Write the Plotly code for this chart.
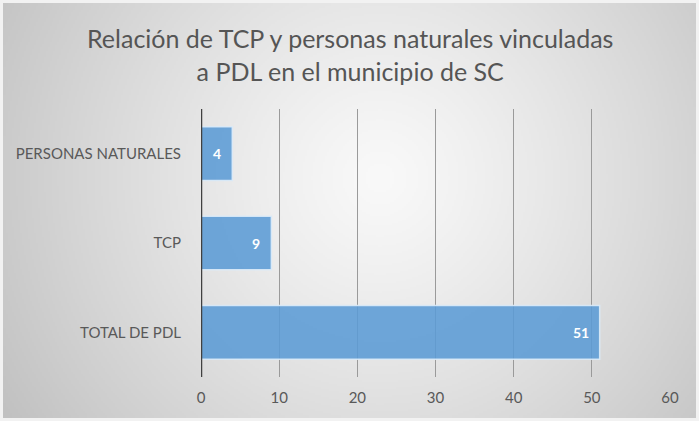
import base64
import struct
import zlib

import numpy as np
import plotly.graph_objects as go

# Chart data
categories = ["TOTAL DE PDL", "TCP", "PERSONAS NATURALES"]
values = [51, 9, 4]
x_ticks = [0, 10, 20, 30, 40, 50, 60]

W, H = 699, 421
M_L, M_R, M_T, M_B = 201, 29, 109, 44


def radial_background(w, h, cx, cy, inner=249, outer=193):
    """Grey radial gradient (light centre, darker edges) as a PNG data URI."""
    yy, xx = np.mgrid[0:h, 0:w].astype(float)
    d = np.hypot(xx - cx, yy - cy)
    d /= d.max()
    val = inner - (inner - outer) * d ** 1.2
    img = np.clip(val, 0, 255).astype(np.uint8)
    raw = b"".join(b"\x00" + row.tobytes() for row in img)

    def chunk(tag, data):
        c = struct.pack(">I", len(data)) + tag + data
        return c + struct.pack(">I", zlib.crc32(tag + data) & 0xFFFFFFFF)

    png = b"\x89PNG\r\n\x1a\n"
    png += chunk(b"IHDR", struct.pack(">IIBBBBB", w, h, 8, 0, 0, 0, 0))
    png += chunk(b"IDAT", zlib.compress(raw, 9))
    png += chunk(b"IEND", b"")
    return "data:image/png;base64," + base64.b64encode(png).decode()


bg_uri = radial_background(350, 210, 190, 88)

fig = go.Figure()
fig.add_trace(
    go.Bar(
        y=categories,
        x=values,
        orientation="h",
        marker=dict(
            color="rgba(91,155,213,0.88)",
            line=dict(color="rgba(220,235,248,0.9)", width=1.5),
        ),
        hoverinfo="skip",
    )
)

# Value labels inside the bar ends
for cat, v in zip(categories, values):
    fig.add_annotation(
        x=v, y=cat, text=f"<b>{v}</b>", showarrow=False,
        xanchor="right", xshift=-9,
        font=dict(family="Lato", size=14, color="white"),
    )

pw = W - M_L - M_R
ph = H - M_T - M_B
fig.add_layout_image(
    source=bg_uri, xref="paper", yref="paper",
    x=-(M_L - 3) / pw, y=1 + (M_T - 3) / ph,
    sizex=(W - 6) / pw, sizey=(H - 6) / ph,
    xanchor="left", yanchor="top", sizing="stretch", layer="below",
)

# Two-line chart title
fig.add_annotation(
    text="Relación de TCP y personas naturales vinculadas<br>a PDL en el municipio de SC",
    xref="paper", yref="paper",
    x=(W / 2 - M_L) / pw, y=1 + (M_T - 21) / ph,
    xanchor="center", yanchor="top", showarrow=False,
    font=dict(family="Lato", size=25, color="#555555"),
)

fig.update_layout(
    width=W, height=H,
    margin=dict(l=M_L, r=M_R, t=M_T, b=M_B),
    paper_bgcolor="#f2f2f2",
    plot_bgcolor="rgba(0,0,0,0)",
    bargap=0.4,
    showlegend=False,
    xaxis=dict(
        range=[0, 60], tickvals=x_ticks, showgrid=True,
        gridcolor="#9a9a9a", gridwidth=1, zeroline=False,
        showline=False, ticks="", ticklabelstandoff=10,
        tickfont=dict(family="Lato", size=15, color="#595959"),
    ),
    yaxis=dict(
        showgrid=False, zeroline=False, showline=False, ticks="",
        ticklabelstandoff=19,
        tickfont=dict(family="Lato", size=15, color="#595959"),
    ),
    shapes=[
        dict(type="line", xref="x", yref="paper", x0=0, x1=0, y0=0, y1=1,
             line=dict(color="#404040", width=2.5), layer="above"),
    ],
)

fig.write_html("out.html")
